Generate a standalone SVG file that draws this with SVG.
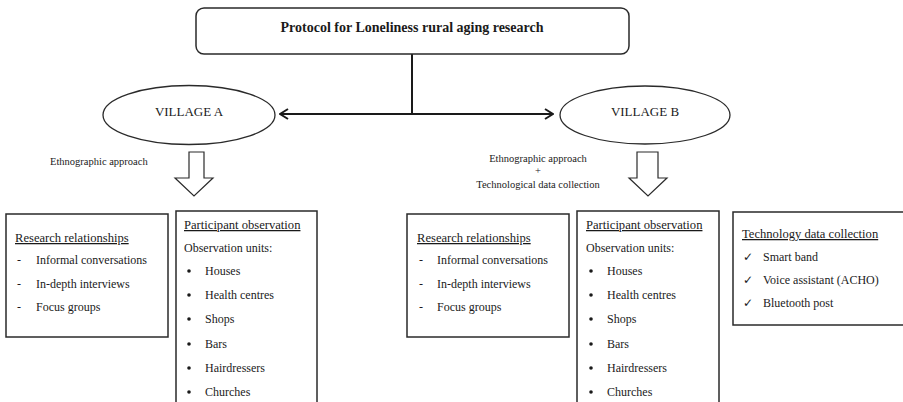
<svg xmlns="http://www.w3.org/2000/svg" width="903" height="402" viewBox="0 0 903 402">
  <defs>
    <marker id="chev" viewBox="0 0 10 12" refX="9" refY="6" markerWidth="10" markerHeight="12" markerUnits="userSpaceOnUse" orient="auto-start-reverse">
      <path d="M1,1 L9,6 L1,11" fill="none" stroke="#1a1a1a" stroke-width="2"/>
    </marker>
  </defs>
  <style>
    text { font-family: "Liberation Serif", "Times New Roman", serif; fill: #1a1a1a; }
    .box { fill: #fff; stroke: #2a2a2a; stroke-width: 1.5; }
    .ell { fill: #fff; stroke: #2a2a2a; stroke-width: 1.3; }
    .t { font-size: 12px; }
    .h { font-size: 12.6px; text-decoration: underline; }
    .s { font-size: 10.5px; }
    .v { font-size: 13px; }
    .blk { fill: #fff; stroke: #2a2a2a; stroke-width: 1.2; }
    .dot { fill: #1a1a1a; }
    .chk { font-family: "DejaVu Sans", sans-serif; font-size: 12px; }
  </style>
  <rect width="903" height="402" fill="#fff"/>

  <!-- connectors -->
  <g id="connectors">
    <line x1="412" y1="54" x2="412" y2="114" stroke="#1a1a1a" stroke-width="2"/>
    <line x1="280" y1="114" x2="553" y2="114" stroke="#1a1a1a" stroke-width="2" marker-start="url(#chev)" marker-end="url(#chev)"/>
    <path class="blk" d="M189,152 H204 V178 H213 L194,196 L175,178 H189 Z"/>
    <path class="blk" d="M637,152 H658 V178 H667 L648,196 L629,178 H637 Z"/>
  </g>

  <!-- title -->
  <g id="title">
    <rect class="box" x="196" y="8" width="433" height="46" rx="8"/>
    <text x="412" y="32" text-anchor="middle" font-size="14" font-weight="bold">Protocol for Loneliness rural aging research</text>
  </g>

  <!-- villages -->
  <g id="village-a">
    <ellipse class="ell" cx="189" cy="115" rx="86" ry="29.5"/>
    <text class="v" x="189" y="116" text-anchor="middle">VILLAGE A</text>
  </g>
  <g id="village-b">
    <ellipse class="ell" cx="645" cy="115" rx="85" ry="29"/>
    <text class="v" x="645" y="116" text-anchor="middle">VILLAGE B</text>
  </g>

  <!-- approach labels -->
  <g id="label-a">
    <text class="s" x="50" y="165">Ethnographic approach</text>
  </g>
  <g id="label-b">
    <text class="s" x="538" y="162" text-anchor="middle">Ethnographic approach</text>
    <text class="s" x="538" y="174" text-anchor="middle">+</text>
    <text class="s" x="538" y="188" text-anchor="middle">Technological data collection</text>
  </g>

  <!-- village A boxes -->
  <g id="research-a">
    <rect class="box" x="6" y="214" width="162" height="123"/>
    <text class="h" x="15" y="242">Research relationships</text>
    <text class="t" x="17" y="264">-</text>
    <text class="t" x="36" y="264">Informal conversations</text>
    <text class="t" x="17" y="288">-</text>
    <text class="t" x="36" y="288">In-depth interviews</text>
    <text class="t" x="17" y="311">-</text>
    <text class="t" x="36" y="311">Focus groups</text>
  </g>
  <g id="observation-a">
    <rect class="box" x="176" y="211" width="141" height="200"/>
    <text class="h" x="184" y="229">Participant observation</text>
    <text class="t" x="184" y="252">Observation units:</text>
    <circle class="dot" cx="189" cy="271" r="1.8"/>
    <text class="t" x="205" y="275">Houses</text>
    <circle class="dot" cx="189" cy="295" r="1.8"/>
    <text class="t" x="205" y="299">Health centres</text>
    <circle class="dot" cx="189" cy="319" r="1.8"/>
    <text class="t" x="205" y="323">Shops</text>
    <circle class="dot" cx="189" cy="344" r="1.8"/>
    <text class="t" x="205" y="348">Bars</text>
    <circle class="dot" cx="189" cy="368" r="1.8"/>
    <text class="t" x="205" y="372">Hairdressers</text>
    <circle class="dot" cx="189" cy="392" r="1.8"/>
    <text class="t" x="205" y="396">Churches</text>
  </g>

  <!-- village B boxes -->
  <g id="research-b">
    <rect class="box" x="407" y="214" width="162" height="123"/>
    <text class="h" x="417" y="242">Research relationships</text>
    <text class="t" x="419" y="264">-</text>
    <text class="t" x="437" y="264">Informal conversations</text>
    <text class="t" x="419" y="288">-</text>
    <text class="t" x="437" y="288">In-depth interviews</text>
    <text class="t" x="419" y="311">-</text>
    <text class="t" x="437" y="311">Focus groups</text>
  </g>
  <g id="observation-b">
    <rect class="box" x="577" y="211" width="142" height="200"/>
    <text class="h" x="586" y="229">Participant observation</text>
    <text class="t" x="586" y="252">Observation units:</text>
    <circle class="dot" cx="591" cy="271" r="1.8"/>
    <text class="t" x="607" y="275">Houses</text>
    <circle class="dot" cx="591" cy="295" r="1.8"/>
    <text class="t" x="607" y="299">Health centres</text>
    <circle class="dot" cx="591" cy="319" r="1.8"/>
    <text class="t" x="607" y="323">Shops</text>
    <circle class="dot" cx="591" cy="344" r="1.8"/>
    <text class="t" x="607" y="348">Bars</text>
    <circle class="dot" cx="591" cy="368" r="1.8"/>
    <text class="t" x="607" y="372">Hairdressers</text>
    <circle class="dot" cx="591" cy="392" r="1.8"/>
    <text class="t" x="607" y="396">Churches</text>
  </g>
  <g id="technology-b">
    <rect class="box" x="733" y="212" width="180" height="113"/>
    <text class="h" x="742" y="238">Technology data collection</text>
    <text class="chk" x="743" y="261">✓</text>
    <text class="t" x="763" y="261">Smart band</text>
    <text class="chk" x="743" y="284">✓</text>
    <text class="t" x="763" y="284">Voice assistant (ACHO)</text>
    <text class="chk" x="743" y="307">✓</text>
    <text class="t" x="763" y="307">Bluetooth post</text>
  </g>
</svg>
